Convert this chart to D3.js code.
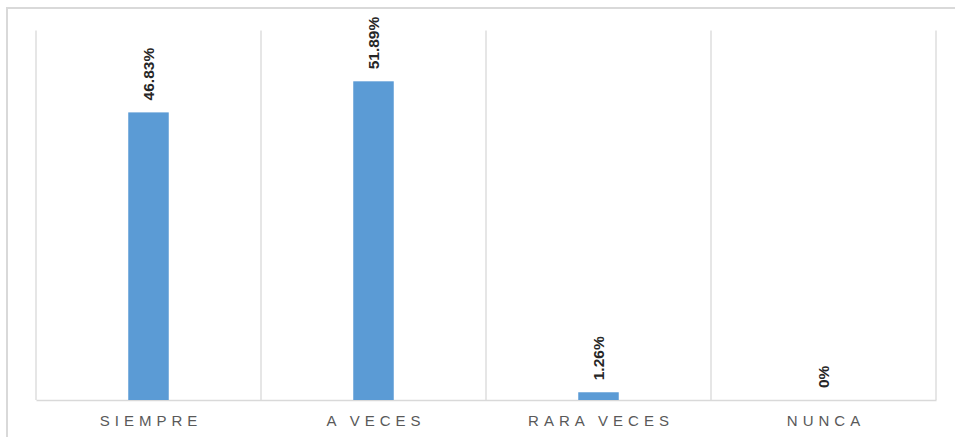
<!DOCTYPE html>
<html>
<head>
<meta charset="utf-8">
<script src="https://cdn.jsdelivr.net/npm/d3@7"></script>
<style>
  html, body { margin: 0; padding: 0; background: #fff; }
  svg { display: block; }
</style>
</head>
<body>
<svg id="chart" width="955" height="437"></svg>
<script>
// Frequency of responses (percent)
const categories = ["SIEMPRE", "A VECES", "RARA VECES", "NUNCA"];
const values = [46.83, 51.89, 1.26, 0];
const valueLabels = ["46.83%", "51.89%", "1.26%", "0%"];
const yDomain = [0, 60];

const W = 955, H = 437;
const plot = { left: 36, right: 936, top: 31.5, bottom: 400 };

const svg = d3.select("#chart");

// Outer chart frame (top and left edges visible)
svg.append("path")
  .attr("d", `M7,${H} L7,8 L${W},8`)
  .attr("fill", "none")
  .attr("stroke", "#d9d9d9")
  .attr("stroke-width", 2);

const x = d3.scaleBand()
  .domain(categories)
  .range([plot.left, plot.right])
  .paddingInner(0)
  .paddingOuter(0);

const y = d3.scaleLinear()
  .domain(yDomain)
  .range([plot.bottom, plot.top]);

// Vertical separators between categories
const seps = categories.map(c => x(c)).concat([plot.right]);
svg.append("g")
  .selectAll("line")
  .data(seps)
  .join("line")
  .attr("x1", d => d).attr("x2", d => d)
  .attr("y1", plot.top - 1).attr("y2", plot.bottom)
  .attr("stroke", "#d9d9d9")
  .attr("stroke-width", 1.3);

// Category axis (letter-spaced caps)
const spacing = 5;
const xAxis = svg.append("g")
  .attr("transform", `translate(0,${plot.bottom})`)
  .call(d3.axisBottom(x).tickSize(0).tickPadding(15));
xAxis.select(".domain")
  .attr("stroke", "#d9d9d9")
  .attr("stroke-width", 1.5);
xAxis.selectAll("text")
  .attr("font-family", "'Liberation Sans', Arial, sans-serif")
  .attr("font-size", 15)
  .attr("letter-spacing", spacing + "px")
  .attr("dx", spacing / 2)
  .attr("fill", "#595959");

// Bars
const barW = x.bandwidth() * 0.18;
svg.append("g")
  .selectAll("rect")
  .data(values)
  .join("rect")
  .attr("x", (d, i) => x(categories[i]) + x.bandwidth() / 2 - barW / 2)
  .attr("y", d => y(d))
  .attr("width", barW)
  .attr("height", d => y(0) - y(d))
  .attr("fill", "#5b9bd5");

// Rotated value labels above the bars
svg.append("g")
  .selectAll("text")
  .data(values)
  .join("text")
  .attr("transform", (d, i) => {
    const cx = x(categories[i]) + x.bandwidth() / 2;
    const cy = y(d) - 12;
    return `translate(${cx + 5.5},${cy}) rotate(-90)`;
  })
  .attr("text-anchor", "start")
  .attr("font-family", "'Liberation Sans Narrow', 'Arial Narrow', sans-serif")
  .attr("font-size", 15.5)
  .attr("font-weight", "bold")
  .attr("fill", "#262626")
  .text((d, i) => valueLabels[i]);
</script>
</body>
</html>
